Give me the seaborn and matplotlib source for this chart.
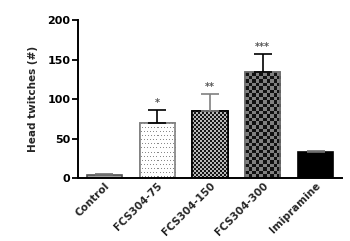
import numpy as np
import pandas as pd
import matplotlib
matplotlib.use("Agg")
import matplotlib.pyplot as plt
import seaborn as sns

groups = ["Control", "FCS304-75", "FCS304-150", "FCS304-300", "Imipramine"]
means = [4, 70, 85, 134, 32.5]
sems = [1, 16, 21, 23, 2]
stars = ["", "*", "**", "***", ""]
yticks = [0, 50, 100, 150, 200]

sns.set_theme(style="ticks")
plt.rcParams["font.family"] = ["DejaVu Sans"]

df = pd.DataFrame({"group": groups, "mean": means})

fig = plt.figure(figsize=(3.5, 2.41), dpi=100)
ax = fig.add_axes([0.223, 0.261, 0.754, 0.656])

sns.barplot(data=df, x="group", y="mean", ax=ax, width=0.67, errorbar=None,
            color="white", linewidth=1.2, edgecolor="black")

patches = ax.patches
face = ["#a0a0a0", "white", "white", "white", "black"]
edge = ["#505050", "#808080", "black", "#707070", "black"]
for p, fc, ec in zip(patches, face, edge):
    p.set_facecolor(fc)
    p.set_edgecolor(ec)

ax.set_xlim(-0.5, 4.5)
ax.set_ylim(0, 200)
fig.canvas.draw()


def bar_pixels(p):
    x0, w, h = p.get_x(), p.get_width(), p.get_height()
    t = ax.transData
    px_w = t.transform((x0 + w, 0))[0] - t.transform((x0, 0))[0]
    px_h = t.transform((0, h))[1] - t.transform((0, 0))[1]
    return x0, w, h, px_w, px_h


def overlay(p, arr, colors):
    x0, w, h, _, _ = bar_pixels(p)
    cmap = matplotlib.colors.ListedColormap(colors)
    im = ax.imshow(arr, extent=(x0, x0 + w, 0, h), cmap=cmap, aspect="auto",
                   interpolation="nearest", zorder=p.get_zorder() + 0.1,
                   origin="upper", vmin=0, vmax=len(colors) - 1)
    im.set_clip_path(p)
    ax.add_patch(plt.Rectangle((x0, 0), w, h, fill=False, edgecolor=p.get_edgecolor(),
                               linewidth=1.2, zorder=p.get_zorder() + 0.2))


def checker(p, ncols, c1, c2):
    _, _, _, px_w, px_h = bar_pixels(p)
    cell_px = px_w / ncols
    nrows = max(1, int(round(px_h / cell_px)))
    arr = (np.add.outer(np.arange(nrows), np.arange(ncols)) % 2).astype(float)
    overlay(p, arr, [c1, c2])


def dots(p, sx, sy, c):
    _, _, _, px_w, px_h = bar_pixels(p)
    nx, ny = int(round(px_w)), int(round(px_h))
    arr = np.zeros((ny, nx))
    for r in range(1, ny, sy):
        off = 1 + ((r // sy) % 2)
        arr[r, off::sx] = 1
    overlay(p, arr, ["white", c])


dots(patches[1], 3, 4, "#8a8a8a")
checker(patches[2], 18, "#151515", "#b8b8b8")
checker(patches[3], 10, "#111111", "#808080")
ax.set_xlim(-0.5, 4.5)
ax.set_ylim(0, 200)

ecols = ["#707070", "black", "#808080", "black", "#707070"]
for i, (m, s, st) in enumerate(zip(means, sems, stars)):
    ax.errorbar(i, m, yerr=[[0], [s]], fmt="none", ecolor=ecols[i],
                elinewidth=1.2, capsize=6.5, capthick=1.2, zorder=5)
    if st:
        ax.text(i, m + s + 3, st, ha="center", va="bottom", fontsize=7,
                color="#555555", fontweight="bold")

ax.set_yticks(yticks)
ax.set_yticklabels([str(v) for v in yticks], fontsize=8, fontweight="bold")
ax.set_xticks(range(len(groups)))
labels = ax.set_xticklabels(groups, rotation=45, ha="right", rotation_mode="anchor",
                            fontsize=7.5, fontweight="bold")
for lab in labels:
    lab.set_transform(lab.get_transform() + matplotlib.transforms.ScaledTranslation(
        4 / 72, 0, fig.dpi_scale_trans))
ax.tick_params(axis="x", length=0, pad=2)
ax.tick_params(axis="y", length=4, width=1.3, pad=1.5, colors="black")
ax.set_xlabel("")
ax.set_ylabel("Head twitches (#)", fontsize=7.5, fontweight="bold", labelpad=7)
sns.despine(ax=ax)
for sp in ["left", "bottom"]:
    ax.spines[sp].set_linewidth(1.4)
    ax.spines[sp].set_color("black")

fig.savefig("out.png", dpi=100)
